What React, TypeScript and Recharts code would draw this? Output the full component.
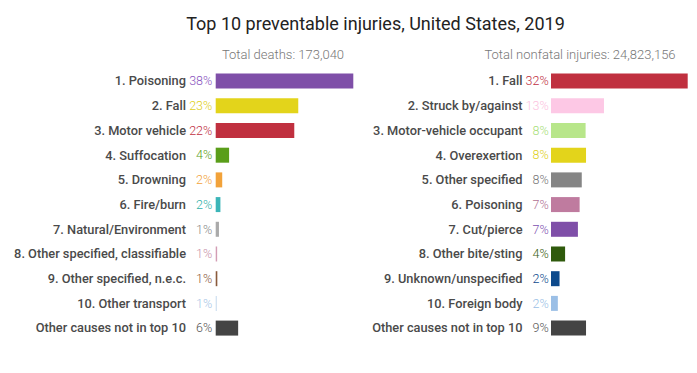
import React from "react";
import { BarChart, Bar, XAxis, YAxis, Cell } from "recharts";

const deathCategories = [
  "1. Poisoning",
  "2. Fall",
  "3. Motor vehicle",
  "4. Suffocation",
  "5. Drowning",
  "6. Fire/burn",
  "7. Natural/Environment",
  "8. Other specified, classifiable",
  "9. Other specified, n.e.c.",
  "10. Other transport",
  "Other causes not in top 10",
];
const deathValues = [38, 22.8, 21.7, 3.7, 1.8, 1.3, 0.9, 0.4, 0.45, 0.3, 6.2];
const deathLabels = ["38%", "23%", "22%", "4%", "2%", "2%", "1%", "1%", "1%", "1%", "6%"];
const deathColors = [
  "#7f4fa8", "#e3d41b", "#c0303f", "#5a9e1a", "#f2a23a", "#3bb5b8",
  "#aaaaaa", "#d39db5", "#8a5a3c", "#c9dcef", "#444444",
];
const deathTextColors = [
  "#8a55c0", "#e0d020", "#c0303f", "#5a9e1a", "#f2a23a", "#2fb0a8",
  "#888888", "#c890a8", "#8a5a3c", "#a8c6e6", "#555555",
];

const injuryCategories = [
  "1. Fall",
  "2. Struck by/against",
  "3. Motor-vehicle occupant",
  "4. Overexertion",
  "5. Other specified",
  "6. Poisoning",
  "7. Cut/pierce",
  "8. Other bite/sting",
  "9. Unknown/unspecified",
  "10. Foreign body",
  "Other causes not in top 10",
];
const injuryValues = [32, 12.4, 8.1, 8.2, 7.2, 6.7, 6.3, 3.3, 2.0, 1.6, 8.2];
const injuryLabels = ["32%", "13%", "8%", "8%", "8%", "7%", "7%", "4%", "2%", "2%", "9%"];
const injuryColors = [
  "#c0303f", "#fdc8e5", "#b8e68a", "#e3d41b", "#858585", "#bf7b9f",
  "#7f4fa8", "#2f5a0c", "#0d4a8c", "#9bbfe6", "#444444",
];
const injuryTextColors = [
  "#c0303f", "#fcc3e0", "#a8e07a", "#e0d020", "#777777", "#b06f92",
  "#8050b0", "#3a6010", "#0d4a8c", "#9bbfe6", "#555555",
];

const deathData = deathCategories.map((name, i) => ({ name, value: deathValues[i] }));
const injuryData = injuryCategories.map((name, i) => ({ name, value: injuryValues[i] }));

const FONT = "Roboto, 'Noto Sans', sans-serif";

function makeTick(labels: string[], textColors: string[], labelOffset: number, pctOffset: number) {
  return (props: any) => {
    const { x, y, payload } = props;
    const i = payload.index;
    return (
      <g>
        <text
          x={x - labelOffset}
          y={y}
          dy="0.35em"
          textAnchor="end"
          fontFamily={FONT}
          fontSize={12.8}
          fontWeight={500}
          fill="#4a4a4a"
        >
          {payload.value}
        </text>
        <text
          x={x - pctOffset}
          y={y}
          dy="0.35em"
          textAnchor="end"
          fontFamily={FONT}
          fontSize={12.5}
          fontWeight={300}
          fill={textColors[i]}
        >
          {labels[i]}
        </text>
      </g>
    );
  };
}

export default function App() {
  return (
    <div
      style={{
        position: "absolute",
        left: 0,
        top: 0,
        width: 697,
        height: 373,
        background: "#fff",
        fontFamily: FONT,
        overflow: "hidden",
      }}
    >
      <div
        style={{
          position: "absolute",
          left: 0,
          top: 13,
          width: 751,
          textAlign: "center",
          fontSize: 18,
          fontWeight: 400,
          color: "#222",
          lineHeight: "22px",
        }}
      >
        Top 10 preventable injuries, United States, 2019
      </div>
      <div
        style={{
          position: "absolute",
          left: 183,
          top: 47,
          width: 200,
          textAlign: "center",
          fontSize: 13,
          fontWeight: 300,
          color: "#777",
          lineHeight: "16px",
        }}
      >
        Total deaths: 173,040
      </div>
      <div
        style={{
          position: "absolute",
          left: 480,
          top: 47,
          width: 200,
          textAlign: "center",
          fontSize: 13,
          fontWeight: 300,
          color: "#777",
          lineHeight: "16px",
          whiteSpace: "nowrap",
        }}
      >
        Total nonfatal injuries: 24,823,156
      </div>

      <div style={{ position: "absolute", left: 0, top: 0 }}>
        <BarChart
          width={360}
          height={373}
          layout="vertical"
          data={deathData}
          margin={{ top: 68.65, bottom: 32.65, left: 0, right: 6.7 }}
          barCategoryGap="20%"
        >
          <XAxis type="number" domain={[0, 38]} hide />
          <YAxis
            type="category"
            dataKey="name"
            width={215.7}
            axisLine={false}
            tickLine={false}
            tickSize={0}
            tickMargin={0}
            interval={0}
            tick={makeTick(deathLabels, deathTextColors, 29.7, 3.4)}
          />
          <Bar dataKey="value" isAnimationActive={false}>
            {deathData.map((d, i) => (
              <Cell key={d.name} fill={deathColors[i]} />
            ))}
          </Bar>
        </BarChart>
      </div>

      <div style={{ position: "absolute", left: 360, top: 0 }}>
        <BarChart
          width={337}
          height={373}
          layout="vertical"
          data={injuryData}
          margin={{ top: 68.65, bottom: 32.65, left: 0, right: 9.3 }}
          barCategoryGap="20%"
        >
          <XAxis type="number" domain={[0, 32]} hide />
          <YAxis
            type="category"
            dataKey="name"
            width={191}
            axisLine={false}
            tickLine={false}
            tickSize={0}
            tickMargin={0}
            interval={0}
            tick={makeTick(injuryLabels, injuryTextColors, 28.5, 2.3)}
          />
          <Bar dataKey="value" isAnimationActive={false}>
            {injuryData.map((d, i) => (
              <Cell key={d.name} fill={injuryColors[i]} />
            ))}
          </Bar>
        </BarChart>
      </div>
    </div>
  );
}
